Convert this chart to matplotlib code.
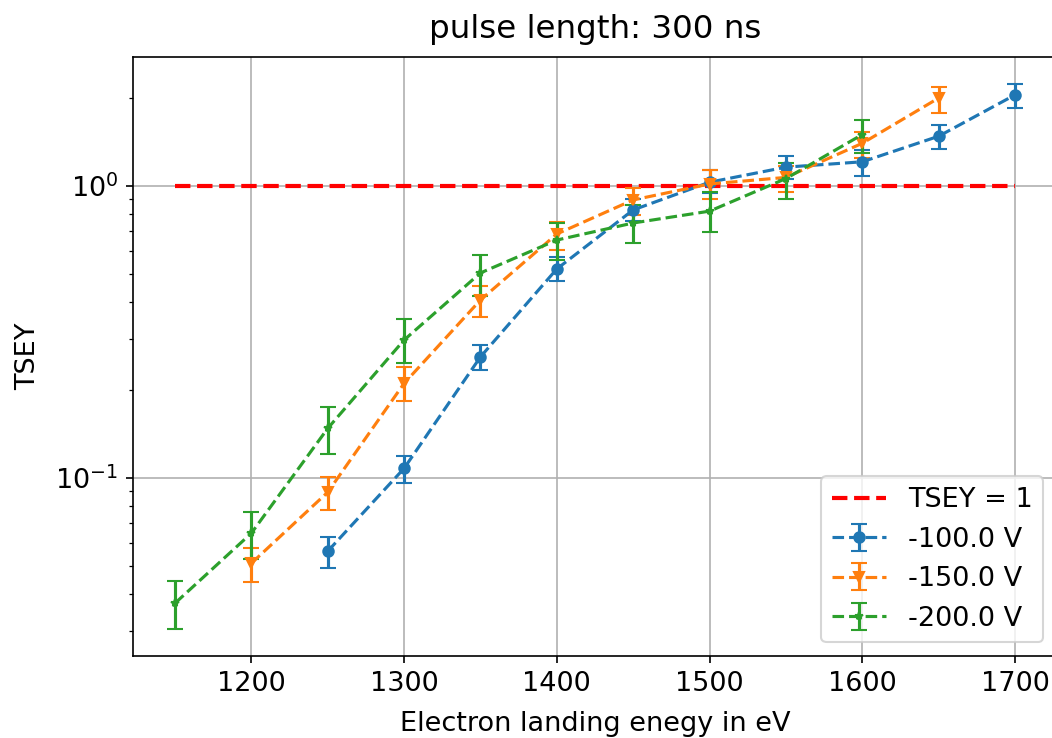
import matplotlib
matplotlib.use("Agg")
import matplotlib.pyplot as plt
import numpy as np

plt.rcParams['font.size'] = 13

# -100 V
e_100 = [1250, 1300, 1350, 1400, 1450, 1500, 1550, 1600, 1650, 1700]
y_100 = [0.0562, 0.108, 0.260, 0.520, 0.828, 1.03, 1.16, 1.21, 1.48, 2.05]
lo_100 = [0.0492, 0.0962, 0.234, 0.473, 0.760, 0.946, 1.06, 1.08, 1.34, 1.85]
hi_100 = [0.0628, 0.119, 0.285, 0.571, 0.900, 1.13, 1.27, 1.33, 1.62, 2.23]

# -150 V
e_150 = [1200, 1250, 1300, 1350, 1400, 1450, 1500, 1550, 1600, 1650]
y_150 = [0.0511, 0.0895, 0.211, 0.407, 0.685, 0.896, 1.016, 1.07, 1.40, 2.00]
lo_150 = [0.0442, 0.0776, 0.183, 0.356, 0.604, 0.796, 0.90, 0.95, 1.25, 1.78]
hi_150 = [0.0576, 0.1007, 0.240, 0.455, 0.753, 0.985, 1.13, 1.17, 1.53, 2.18]

# -200 V
e_200 = [1150, 1200, 1250, 1300, 1350, 1400, 1450, 1500, 1550, 1600]
y_200 = [0.0373, 0.0648, 0.148, 0.297, 0.504, 0.653, 0.747, 0.820, 1.06, 1.50]
lo_200 = [0.0305, 0.0528, 0.121, 0.248, 0.420, 0.558, 0.638, 0.696, 0.90, 1.30]
hi_200 = [0.0445, 0.0766, 0.175, 0.350, 0.580, 0.747, 0.860, 0.954, 1.20, 1.68]

ref_x = [1150, 1700]
ref_y = [1, 1]

fig = plt.figure(figsize=(1052/150, 738/150), dpi=150)
ax = fig.add_axes([133/1052, 82/738, 924/1052, 599/738])

ax.plot(ref_x, ref_y, 'r--', lw=2, label='TSEY = 1')

def err(y, lo, hi):
    y = np.array(y); return [y - np.array(lo), np.array(hi) - y]

ax.errorbar(e_100, y_100, yerr=err(y_100, lo_100, hi_100), fmt='o--', ms=5, capsize=4, label='-100.0 V')
ax.errorbar(e_150, y_150, yerr=err(y_150, lo_150, hi_150), fmt='v--', ms=5, capsize=4, label='-150.0 V')
ax.errorbar(e_200, y_200, yerr=err(y_200, lo_200, hi_200), fmt='*--', ms=4, capsize=4, label='-200.0 V')

ax.set_yscale('log')
ax.grid(True)
ax.set_title('pulse length: 300 ns', pad=9)
ax.set_xlabel('Electron landing enegy in eV', labelpad=7)
ax.set_ylabel('TSEY', labelpad=7)
ax.legend(loc='lower right')

fig.savefig('out.png', dpi=150)
